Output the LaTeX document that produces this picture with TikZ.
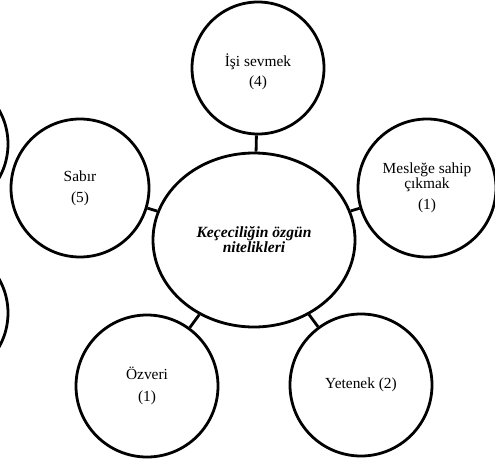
\documentclass[tikz,border=0pt]{standalone}
\usepackage{fontspec}
\setmainfont{Liberation Serif}
\usetikzlibrary{positioning, shapes.geometric}

\begin{document}
\begin{tikzpicture}[x=1pt, y=-1pt, line width=2.8pt,
    bubble/.style={draw, circle, minimum size=138pt, inner sep=0pt, align=center,
      font=\fontsize{15.4}{15}\selectfont},
    core/.style={draw, ellipse, minimum width=202pt, minimum height=174pt, inner sep=0pt,
      align=center, font=\fontsize{15.6}{15}\selectfont\bfseries\itshape},
    link/.style={draw, line width=2.8pt}]
  \useasboundingbox (0,0) rectangle (495,458);
  \clip (0,0) rectangle (495,458);

  % centre
  \node[core] (core) at (254,240) {Keçeciliğin özgün\\nitelikleri};

  % qualities round it
  \node[bubble, minimum size=132pt] (isi) at (258,68)
    {\raisebox{-4pt}[\height][\depth]{\begin{tabular}{@{}c@{}}İşi sevmek\\[5pt](4)\end{tabular}}};
  \node[bubble] (sabir) at (80,188) {Sabır\\[6pt](5)};
  \node[bubble] (meslek) at (427,188) {Mesleğe sahip\\çıkmak\\[6pt](1)};
  \node[bubble, minimum size=142pt] (ozveri) at (147,386) {Özveri\\[7pt](1)};
  \node[bubble, minimum size=142pt] (yetenek) at (361,385) {Yetenek (2)};

  % neighbours cut off at the left edge
  \node[bubble] (leftup) at (-61,144) {};
  \node[bubble] (leftdown) at (-61,313) {};

  \path
    (isi) edge[link] (core)
    (sabir) edge[link] (core)
    (meslek) edge[link] (core)
    (ozveri) edge[link] (core)
    (yetenek) edge[link] (core);
\end{tikzpicture}
\end{document}
